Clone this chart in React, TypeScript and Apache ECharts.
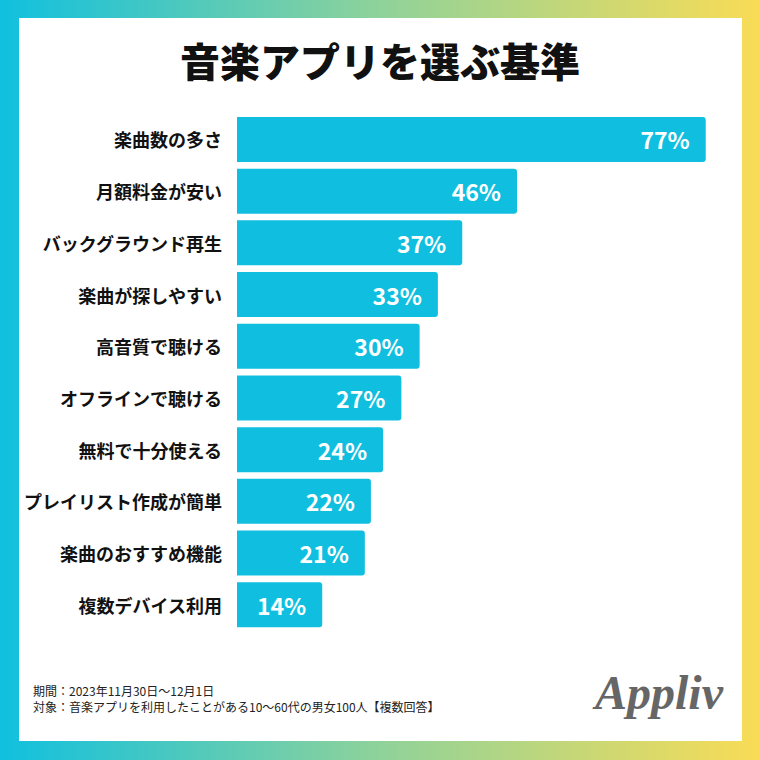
import React, { useEffect, useRef } from "react";
import * as echarts from "echarts";

const categories = [
  "楽曲数の多さ",
  "月額料金が安い",
  "バックグラウンド再生",
  "楽曲が探しやすい",
  "高音質で聴ける",
  "オフラインで聴ける",
  "無料で十分使える",
  "プレイリスト作成が簡単",
  "楽曲のおすすめ機能",
  "複数デバイス利用",
];
const values = [77, 46, 37, 33, 30, 27, 24, 22, 21, 14];
const titleText = "音楽アプリを選ぶ基準";
const noteLines = [
  "期間：2023年11月30日〜12月1日",
  "対象：音楽アプリを利用したことがある10〜60代の男女100人【複数回答】",
];
const logoText = "Appliv";

const FONT = "'Noto Sans CJK JP', 'Noto Sans', sans-serif";

export default function App() {
  const ref = useRef<HTMLDivElement>(null);
  useEffect(() => {
    document.body.style.margin = "0";
    const chart = echarts.init(ref.current!, null, { renderer: "svg" });
    chart.setOption({
      animation: false,
      backgroundColor: "#ffffff",
      graphic: [
        {
          type: "rect",
          left: 0,
          top: 0,
          z: -10,
          shape: { width: 760, height: 760 },
          style: {
            fill: new echarts.graphic.LinearGradient(0, 0, 1, 0, [
              { offset: 0, color: "#10c0df" },
              { offset: 0.5, color: "#8fd29a" },
              { offset: 1, color: "#f9dc56" },
            ]),
          },
        },
        {
          type: "rect",
          left: 19,
          top: 18,
          z: -9,
          shape: { width: 723, height: 723 },
          style: { fill: "#ffffff" },
        },
        {
          type: "text",
          left: "center",
          top: 40,
          style: {
            text: titleText,
            font: `900 40px ${FONT}`,
            fill: "#111111",
          },
        },
        {
          type: "text",
          left: 33,
          top: 682,
          style: {
            text: noteLines.join("\n"),
            font: `12px ${FONT}`,
            lineHeight: 16,
            fill: "#222222",
          },
        },
        {
          type: "text",
          left: 595,
          top: 668,
          style: {
            text: logoText,
            font: `italic bold 48px 'Liberation Serif', 'DejaVu Serif', serif`,
            fill: "#666666",
          },
        },
      ],
      grid: { left: 237, right: 36, top: 113.6, height: 517, containLabel: false },
      xAxis: {
        type: "value",
        min: 0,
        max: 80,
        show: false,
      },
      yAxis: {
        type: "category",
        data: categories,
        inverse: true,
        axisLine: { show: false },
        axisTick: { show: false },
        axisLabel: {
          margin: 15,
          color: "#111111",
          fontSize: 18,
          fontWeight: "bold",
          fontFamily: FONT,
        },
      },
      series: [
        {
          type: "bar",
          data: values,
          barWidth: 45,
          itemStyle: { color: "#10bfdf", borderRadius: [0, 3, 3, 0] },
          label: {
            show: true,
            position: "insideRight",
            distance: 16,
            formatter: "{c}%",
            color: "#ffffff",
            fontSize: 23,
            fontWeight: "bold",
            fontFamily: FONT,
          },
        },
      ],
    });
    return () => chart.dispose();
  }, []);
  return <div ref={ref} style={{ width: 760, height: 760 }} />;
}
